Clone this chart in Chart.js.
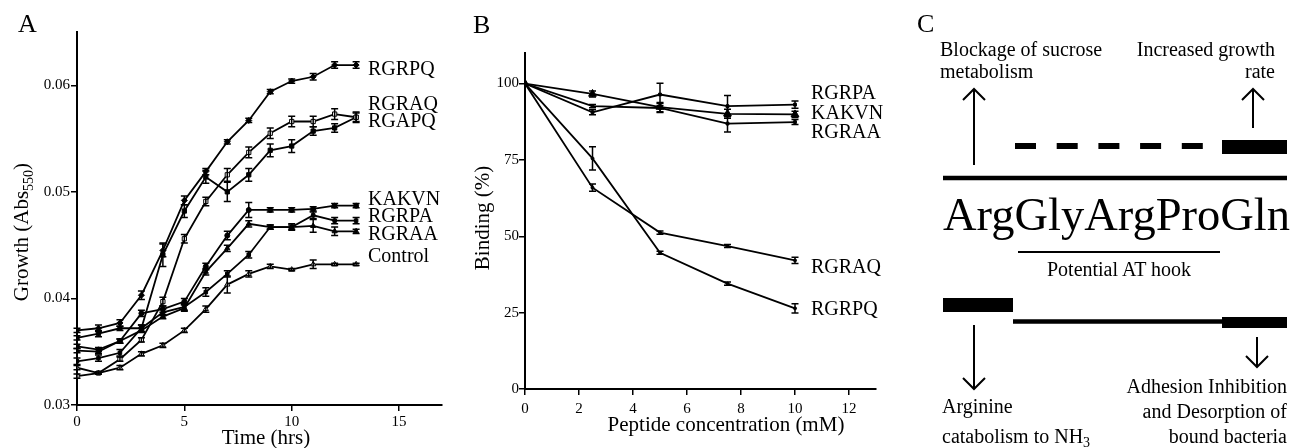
<!DOCTYPE html>
<html>
<head>
<meta charset="utf-8">
<script src="https://cdn.jsdelivr.net/npm/chart.js@4/dist/chart.umd.min.js"></script>
<style>
  html, body { margin: 0; padding: 0; background: #fff; }
  body { width: 1302px; height: 448px; position: relative; overflow: hidden; }
  canvas { position: absolute; top: 0; }
  #chartA { left: 0; }
  #chartB { left: 420px; }
  #notes { position: absolute; left: 0; top: 0; }
  #notes text { font-family: 'Liberation Serif', 'Times New Roman', serif; fill: #000; }
</style>
</head>
<body>
<canvas id="chartA" width="450" height="448"></canvas>
<canvas id="chartB" width="470" height="448"></canvas>

<svg id="notes" width="1302" height="448" xmlns="http://www.w3.org/2000/svg">
  <!-- panel letters -->
  <text x="18" y="32" font-size="26">A</text>
  <text x="473" y="33" font-size="26">B</text>
  <text x="917" y="32" font-size="26">C</text>

  <!-- axis titles -->
  <text x="266" y="444" font-size="21" text-anchor="middle">Time (hrs)</text>
  <text transform="translate(28,232) rotate(-90)" font-size="21" text-anchor="middle">Growth (Abs<tspan font-size="14" dy="5">550</tspan><tspan dy="-5">)</tspan></text>
  <text x="726" y="431" font-size="21" text-anchor="middle">Peptide concentration (mM)</text>
  <text transform="translate(489,218) rotate(-90)" font-size="21" text-anchor="middle">Binding (%)</text>

  <!-- series labels A -->
  <g font-size="20">
    <text x="368" y="75">RGRPQ</text>
    <text x="368" y="110">RGRAQ</text>
    <text x="368" y="127">RGAPQ</text>
    <text x="368" y="205">KAKVN</text>
    <text x="368" y="222">RGRPA</text>
    <text x="368" y="240">RGRAA</text>
    <text x="368" y="262">Control</text>
  </g>

  <!-- series labels B -->
  <g font-size="20">
    <text x="811" y="99">RGRPA</text>
    <text x="811" y="119">KAKVN</text>
    <text x="811" y="138">RGRAA</text>
    <text x="811" y="273">RGRAQ</text>
    <text x="811" y="315">RGRPQ</text>
  </g>

  <!-- panel C diagram -->
  <g font-size="20">
    <text x="940" y="56">Blockage of sucrose</text>
    <text x="940" y="78">metabolism</text>
    <text x="1275" y="56" text-anchor="end">Increased growth</text>
    <text x="1275" y="78" text-anchor="end">rate</text>
    <text x="1119" y="276" text-anchor="middle">Potential AT hook</text>
    <text x="1287" y="393" text-anchor="end">Adhesion Inhibition</text>
    <text x="1287" y="418" text-anchor="end">and Desorption of</text>
    <text x="1287" y="443" text-anchor="end">bound bacteria</text>
    <text x="942" y="413">Arginine</text>
    <text x="942" y="443">catabolism to NH<tspan font-size="14" dy="4">3</tspan></text>
  </g>
  <text x="943" y="230" font-size="46" textLength="347" lengthAdjust="spacingAndGlyphs">ArgGlyArgProGln</text>

  <g stroke="#000" fill="none">
    <!-- up arrows -->
    <line x1="974" y1="165" x2="974" y2="89" stroke-width="2"/>
    <polyline points="963,100 974,89 985,100" stroke-width="2"/>
    <line x1="1253" y1="128" x2="1253" y2="89" stroke-width="2"/>
    <polyline points="1242,100 1253,89 1264,100" stroke-width="2"/>
    <!-- dashed segment -->
    <line x1="1015" y1="146" x2="1204" y2="146" stroke-width="6" stroke-dasharray="21 20.7"/>
    <!-- main line -->
    <line x1="943" y1="178" x2="1287" y2="178" stroke-width="4.5"/>
    <!-- AT hook line -->
    <line x1="1018" y1="252" x2="1220" y2="252" stroke-width="2"/>
    <!-- lower line -->
    <line x1="1013" y1="321.5" x2="1222" y2="321.5" stroke-width="4.5"/>
    <!-- down arrows -->
    <line x1="974" y1="325" x2="974" y2="389" stroke-width="2"/>
    <polyline points="963,378 974,389 985,378" stroke-width="2"/>
    <line x1="1257" y1="337" x2="1257" y2="367" stroke-width="2"/>
    <polyline points="1246,356 1257,367 1268,356" stroke-width="2"/>
  </g>
  <g fill="#000">
    <rect x="1222" y="140" width="65" height="14"/>
    <rect x="943" y="298" width="70" height="14"/>
    <rect x="1222" y="317" width="65" height="11"/>
  </g>
</svg>

<script>
// ---- Panel A: growth over time ----
const hoursA = [0, 1, 2, 3, 4, 5, 6, 7, 8, 9, 10, 11, 12, 13];
const xTicksA = [0, 5, 10, 15];
const yTicksA = [0.03, 0.04, 0.05, 0.06];

const growthRGRPQ = [0.0370, 0.0372, 0.0377, 0.0403, 0.0445, 0.0492, 0.0519, 0.0547, 0.0567, 0.0594, 0.0604, 0.0608, 0.0619, 0.0619];
const errRGRPQ    = [0.0002, 0.0003, 0.0003, 0.0004, 0.0006, 0.0004, 0.0003, 0.0002, 0.0002, 0.0002, 0.0002, 0.0003, 0.0003, 0.0003];
const growthRGRAQ = [0.0327, 0.0330, 0.0343, 0.0361, 0.0397, 0.0456, 0.0491, 0.0516, 0.0537, 0.0555, 0.0566, 0.0566, 0.0573, 0.0570];
const errRGRAQ    = [0.0002, 0.0001, 0.0002, 0.0002, 0.0004, 0.0004, 0.0004, 0.0006, 0.0005, 0.0005, 0.0005, 0.0005, 0.0005, 0.0005];
const growthRGAPQ = [0.0363, 0.0367, 0.0372, 0.0372, 0.0441, 0.0482, 0.0514, 0.0500, 0.0516, 0.0539, 0.0543, 0.0557, 0.0560, 0.0570];
const errRGAPQ    = [0.0002, 0.0003, 0.0002, 0.0003, 0.0011, 0.0006, 0.0006, 0.0009, 0.0006, 0.0006, 0.0006, 0.0004, 0.0004, 0.0004];
const growthKAKVN = [0.0355, 0.0352, 0.0360, 0.0386, 0.0390, 0.0397, 0.0430, 0.0459, 0.0483, 0.0483, 0.0483, 0.0484, 0.0487, 0.0487];
const errKAKVN    = [0.0002, 0.0002, 0.0002, 0.0003, 0.0003, 0.0003, 0.0003, 0.0004, 0.0007, 0.0002, 0.0002, 0.0002, 0.0002, 0.0002];
const growthRGRPA = [0.0341, 0.0344, 0.0349, 0.0372, 0.0387, 0.0392, 0.0406, 0.0423, 0.0441, 0.0467, 0.0467, 0.0478, 0.0473, 0.0473];
const errRGRPA    = [0.0003, 0.0003, 0.0003, 0.0003, 0.0003, 0.0003, 0.0004, 0.0003, 0.0003, 0.0002, 0.0002, 0.0003, 0.0003, 0.0003];
const growthRGRAA = [0.0351, 0.0350, 0.0360, 0.0370, 0.0383, 0.0391, 0.0425, 0.0447, 0.0470, 0.0467, 0.0467, 0.0468, 0.0463, 0.0463];
const errRGRAA    = [0.0002, 0.0002, 0.0002, 0.0002, 0.0002, 0.0003, 0.0003, 0.0003, 0.0003, 0.0002, 0.0003, 0.0006, 0.0004, 0.0002];
const growthControl = [0.0335, 0.0330, 0.0335, 0.0348, 0.0356, 0.0370, 0.0390, 0.0413, 0.0423, 0.0430, 0.0427, 0.0432, 0.0432, 0.0432];
const errControl    = [0.0002, 0.0001, 0.0002, 0.0002, 0.0002, 0.0002, 0.0003, 0.0008, 0.0003, 0.0002, 0.0001, 0.0004, 0.0001, 0.0001];

// ---- Panel B: binding vs peptide concentration ----
const concB = [0, 2.5, 5, 7.5, 10];
const xTicksB = [0, 2, 4, 6, 8, 10, 12];
const yTicksB = [0, 25, 50, 75, 100];

const bindRGRPA = [100, 90.6, 96.4, 92.6, 93.1];
const bindErrRGRPA = [0, 0.8, 3.7, 3.5, 1.2];
const bindKAKVN = [100, 96.6, 92.3, 90.1, 89.9];
const bindErrKAKVN = [0, 1.0, 1.5, 1.5, 1.0];
const bindRGRAA = [100, 92.6, 92.0, 86.9, 87.4];
const bindErrRGRAA = [0, 0.5, 1.5, 2.8, 0.8];
const bindRGRAQ = [100, 65.9, 51.2, 46.8, 42.1];
const bindErrRGRAQ = [0, 1.2, 0.5, 0.5, 1.0];
const bindRGRPQ = [100, 75.5, 44.6, 34.5, 26.4];
const bindErrRGRPQ = [0, 3.8, 0.5, 0.5, 1.5];

Chart.defaults.font.family = "'Liberation Serif', 'Times New Roman', serif";
Chart.defaults.color = '#000';

function toXY(xs, ys) {
    return xs.map((x, i) => ({ x: x, y: ys[i] }));
}

function line(label, xs, ys, errs, style, radius, fill) {
    return {
        label: label,
        data: toXY(xs, ys),
        errors: errs,
        borderColor: '#000',
        borderWidth: 1.8,
        tension: 0,
        pointStyle: style,
        pointRadius: radius,
        pointBackgroundColor: fill,
        pointBorderColor: '#000',
        pointBorderWidth: 1
    };
}

// draws vertical error bars through the chart's own scales
const errorBars = {
    id: 'errorBars',
    afterDatasetsDraw(chart) {
        const ctx = chart.ctx;
        const xs = chart.scales.x, ys = chart.scales.y;
        ctx.save();
        ctx.strokeStyle = '#000';
        ctx.lineWidth = 1.5;
        chart.data.datasets.forEach(ds => {
            if (!ds.errors) return;
            ds.data.forEach((p, i) => {
                const e = ds.errors[i];
                if (!e) return;
                const px = xs.getPixelForValue(p.x);
                const top = ys.getPixelForValue(p.y + e);
                const bot = ys.getPixelForValue(p.y - e);
                ctx.beginPath();
                ctx.moveTo(px, top); ctx.lineTo(px, bot);
                ctx.moveTo(px - 3.5, top); ctx.lineTo(px + 3.5, top);
                ctx.moveTo(px - 3.5, bot); ctx.lineTo(px + 3.5, bot);
                ctx.stroke();
            });
        });
        ctx.restore();
    }
};

function axis(min, max, ticks, fit, fmt, pad) {
    return {
        type: 'linear',
        min: min,
        max: max,
        afterBuildTicks: s => { s.ticks = ticks.map(v => ({ value: v })); },
        afterFit: fit,
        border: { color: '#000', width: 2 },
        grid: { drawOnChartArea: false, drawTicks: true, tickLength: 6, color: '#000', lineWidth: 1.5 },
        ticks: { font: { size: 15 }, color: '#000', padding: pad, callback: fmt, maxRotation: 0 }
    };
}

new Chart(document.getElementById('chartA'), {
    type: 'line',
    data: {
        datasets: [
            line('RGRPQ', hoursA, growthRGRPQ, errRGRPQ, 'rectRot', 3, '#000'),
            line('RGRAQ', hoursA, growthRGRAQ, errRGRAQ, 'rect', 3, '#fff'),
            line('RGAPQ', hoursA, growthRGAPQ, errRGAPQ, 'rect', 3, '#000'),
            line('KAKVN', hoursA, growthKAKVN, errKAKVN, 'circle', 2.5, '#000'),
            line('RGRPA', hoursA, growthRGRPA, errRGRPA, 'rect', 2.5, '#000'),
            line('RGRAA', hoursA, growthRGRAA, errRGRAA, 'triangle', 3, '#000'),
            line('Control', hoursA, growthControl, errControl, 'triangle', 3, '#fff')
        ]
    },
    options: {
        responsive: false,
        animation: false,
        devicePixelRatio: 1,
        layout: { padding: { left: 0, top: 32, right: 8, bottom: 0 } },
        plugins: { legend: { display: false }, tooltip: { enabled: false } },
        scales: {
            x: axis(0, 17, xTicksA, s => { s.height = 43; }, v => String(v), 2),
            y: axis(0.03, 0.065, yTicksA, s => { s.width = 77; }, v => v.toFixed(2), 1)
        }
    },
    plugins: [errorBars]
});

new Chart(document.getElementById('chartB'), {
    type: 'line',
    data: {
        datasets: [
            line('RGRPA', concB, bindRGRPA, bindErrRGRPA, 'rect', 2, '#000'),
            line('KAKVN', concB, bindKAKVN, bindErrKAKVN, 'triangle', 4.5, '#000'),
            line('RGRAA', concB, bindRGRAA, bindErrRGRAA, 'rect', 2, '#000'),
            line('RGRAQ', concB, bindRGRAQ, bindErrRGRAQ, 'circle', 1.5, '#000'),
            line('RGRPQ', concB, bindRGRPQ, bindErrRGRPQ, 'circle', 1.5, '#000')
        ]
    },
    options: {
        responsive: false,
        animation: false,
        devicePixelRatio: 1,
        layout: { padding: { left: 0, top: 53, right: 14, bottom: 0 } },
        plugins: { legend: { display: false }, tooltip: { enabled: false } },
        scales: {
            x: axis(0, 13, xTicksB, s => { s.height = 59; }, v => String(v), 5),
            y: axis(0, 110, yTicksB, s => { s.width = 105; }, v => String(v), 0)
        }
    },
    plugins: [errorBars]
});
</script>
</body>
</html>
